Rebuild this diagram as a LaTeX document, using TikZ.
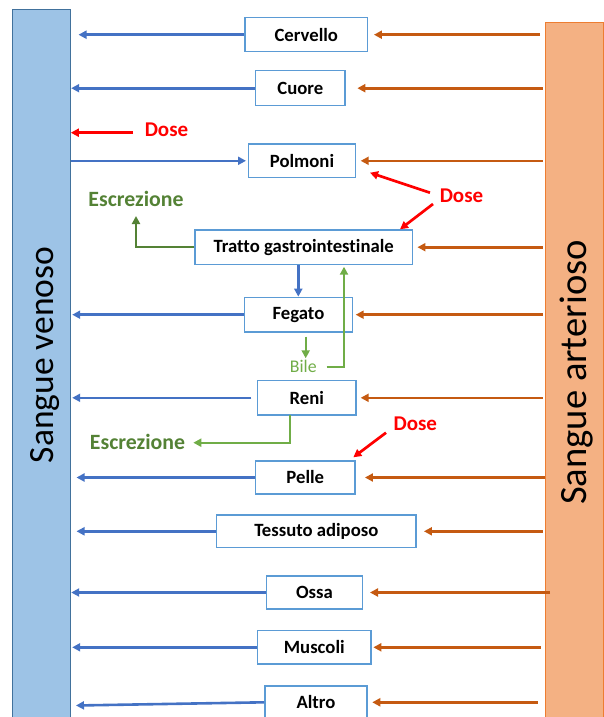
\documentclass[tikz,border=0pt]{standalone}
\usepackage{fontspec}
\setmainfont{Carlito}[Ligatures=NoCommon]
\usetikzlibrary{arrows.meta}

\definecolor{venfill}{HTML}{9DC3E6}
\definecolor{venline}{HTML}{41719C}
\definecolor{artfill}{HTML}{F4B183}
\definecolor{artline}{HTML}{ED7D31}
\definecolor{boxline}{HTML}{5B9BD5}
\definecolor{flowblue}{HTML}{4472C4}
\definecolor{floworange}{HTML}{C55A11}
\definecolor{dosered}{HTML}{FF0000}
\definecolor{excgreen}{HTML}{548235}
\definecolor{bilegreen}{HTML}{70AD47}

\tikzset{
  tip/.style={-{Triangle[length=8pt,width=8pt]}},
  organ/.style={draw=boxline, line width=1.4pt, fill=white, inner sep=0pt,
    font=\fontsize{18.7}{20}\selectfont\bfseries},
  venbar/.style={draw=venline, fill=venfill, line width=1pt, inner sep=0pt, anchor=north},
  artbar/.style={draw=artline, fill=artfill, line width=1pt, inner sep=0pt, anchor=north},
  bluearr/.style={tip, draw=flowblue, line width=2.6pt},
  orangearr/.style={tip, draw=floworange, line width=2.6pt},
  redarr/.style={tip, draw=dosered, line width=2.7pt},
  greenarr/.style={tip, draw=bilegreen, line width=2.4pt},
  darkgreenarr/.style={tip, draw=excgreen, line width=2.4pt},
  doselabel/.style={anchor=base, text=dosered, font=\fontsize{21}{22}\selectfont\bfseries},
  exclabel/.style={anchor=base, text=excgreen, font=\fontsize{21.8}{23}\selectfont\bfseries},
  bilelabel/.style={anchor=base, text=bilegreen, font=\fontsize{17.8}{19}\selectfont},
}

\begin{document}
\begin{tikzpicture}[x=1pt, y=-1pt]
\useasboundingbox (0,0) rectangle (603,717);

% blood pools
\node[venbar, minimum width=57.6pt, minimum height=721pt] (ven) at (41.5,9.3) {};
\node[artbar, minimum width=58pt, minimum height=710pt] (art) at (574,21.7) {};
\node[rotate=90, anchor=base, font=\fontsize{35.5}{36}\selectfont] (venlab) at (53.5,355) {Sangue venoso};
\node[rotate=90, anchor=base, font=\fontsize{38.6}{40}\selectfont] (artlab) at (586.3,372.5) {Sangue arterioso};

% organs
\node[organ, minimum width=122.7pt, minimum height=34pt]   (cerv) at (306.3,34.7)  {Cervello};
\node[organ, minimum width=89.3pt,  minimum height=35pt]   (cuor) at (300.3,88.2)  {Cuore};
\node[organ, minimum width=107.4pt, minimum height=33.7pt] (polm) at (302,160.8)   {Polmoni};
\node[organ, minimum width=217.3pt, minimum height=34.3pt] (gast) at (303.7,247.2) {Tratto gastrointestinale};
\node[organ, minimum width=108.4pt, minimum height=34.7pt] (fega) at (298.5,314.7) {Fegato};
\node[organ, minimum width=98.3pt,  minimum height=34.3pt] (reni) at (306.8,397.8) {Reni};
\node[organ, minimum width=99.3pt,  minimum height=33pt]   (pell) at (305.3,477.5) {Pelle};
\node[organ, minimum width=199.3pt, minimum height=32.7pt] (adip) at (316.3,531.3) {Tessuto adiposo};
\node[organ, minimum width=95.6pt,  minimum height=33pt]   (ossa) at (314.5,592.5) {Ossa};
\node[organ, minimum width=113.3pt, minimum height=33.3pt] (musc) at (314.3,647.3) {Muscoli};
\node[organ, minimum width=102.3pt, minimum height=33pt]   (altr) at (316,702.3)   {Altro};

% venous return
\draw[bluearr, shorten >=7.7pt] (cerv.west) -- (cerv.west -| ven.east);
\draw[bluearr, shorten >=0.4pt] (cuor.west) -- (cuor.west -| ven.east);
\draw[bluearr, shorten >=1.6pt] (polm.west -| ven.east) -- (polm.west);
\draw[bluearr, shorten >=1.4pt] (fega.west) -- (fega.west -| ven.east);
\draw[bluearr, shorten <=5.7pt, shorten >=1.4pt] (reni.west) -- (reni.west -| ven.east);
\draw[bluearr, shorten >=5.7pt] (pell.west) -- (pell.west -| ven.east);
\draw[bluearr, shorten >=5.7pt] (adip.west) -- (adip.west -| ven.east);
\draw[bluearr, shorten >=0.4pt] (ossa.west) -- (ossa.west -| ven.east);
\draw[bluearr, shorten >=1.4pt] (musc.west) -- (musc.west -| ven.east);
\coordinate (altrin) at (76,705.5);
\draw[bluearr] (altr.west) -- (altrin);
\draw[bluearr] (gast.south -| fega.north) ++(-0.2,0) coordinate (gfdown) -- (gfdown |- fega.north);

% arterial supply
\draw[orangearr, shorten <=4.3pt, shorten >=5.6pt]  (cerv.east -| art.west) -- (cerv.east);
\draw[orangearr, shorten <=2pt,   shorten >=11.7pt] (cuor.east -| art.west) -- (cuor.east);
\draw[orangearr, shorten <=2pt,   shorten >=4.3pt]  (polm.east -| art.west) -- (polm.east);
\draw[orangearr, shorten <=2pt,   shorten >=4.4pt]  (gast.east -| art.west) -- (gast.east);
\draw[orangearr, shorten <=2pt,   shorten >=2.3pt]  (fega.east -| art.west) -- (fega.east);
\draw[orangearr, shorten <=2pt,   shorten >=4pt]    (reni.east -| art.west) -- (reni.east);
\draw[orangearr, shorten >=9.3pt]                   (pell.east -| art.west) -- (pell.east);
\draw[orangearr, shorten <=1.7pt, shorten >=7.3pt]  (adip.east -| art.west) -- (adip.east);
\draw[orangearr, shorten <=-5.7pt, shorten >=7pt]   (ossa.east -| art.west) -- (ossa.east);
\draw[orangearr, shorten <=4pt,   shorten >=1.7pt]  (musc.east -| art.west) -- (musc.east);
\draw[orangearr, shorten <=6.7pt, shorten >=4.4pt]  (altr.east -| art.west) -- (altr.east);

% doses
\node[doselabel] (dose1) at (166.5,136.5) {Dose};
\node[doselabel] (dose2) at (461.5,202.5) {Dose};
\node[doselabel] (dose3) at (415.3,430.5) {Dose};
\coordinate (d1a) at (133,132.7);
\draw[redarr] (d1a) -- (d1a -| ven.east);
\coordinate (d2a) at (430,192.7);
\coordinate (d2b) at (370,172.7);
\draw[redarr] (d2a) -- (d2b);
\coordinate (d2c) at (433,204);
\coordinate (d2d) at (400,229.3);
\draw[redarr] (d2c) -- (d2d);
\coordinate (d3a) at (386,432.7);
\coordinate (d3b) at (353.3,457.3);
\draw[redarr] (d3a) -- (d3b);

% excretion and bile
\node[exclabel] (exc1) at (136,206.5) {Escrezione};
\node[exclabel] (exc2) at (137.5,449) {Escrezione};
\node[bilelabel] (bile) at (303.3,372.5) {Bile};
\coordinate (e1) at (136,216);
\draw[darkgreenarr] (gast.west) -| (e1);
\coordinate (e2) at (193.3,442.7);
\coordinate (renout) at (290,415);
\draw[greenarr] (renout) |- (e2);
\coordinate (b1) at (305.7,336.7);
\coordinate (b2) at (305.7,358.3);
\draw[greenarr] (b1) -- (b2);
\coordinate (b3) at (326.7,366.7);
\coordinate (b4) at (344,266.7);
\draw[greenarr] (b3) -| (b4);
\end{tikzpicture}
\end{document}
